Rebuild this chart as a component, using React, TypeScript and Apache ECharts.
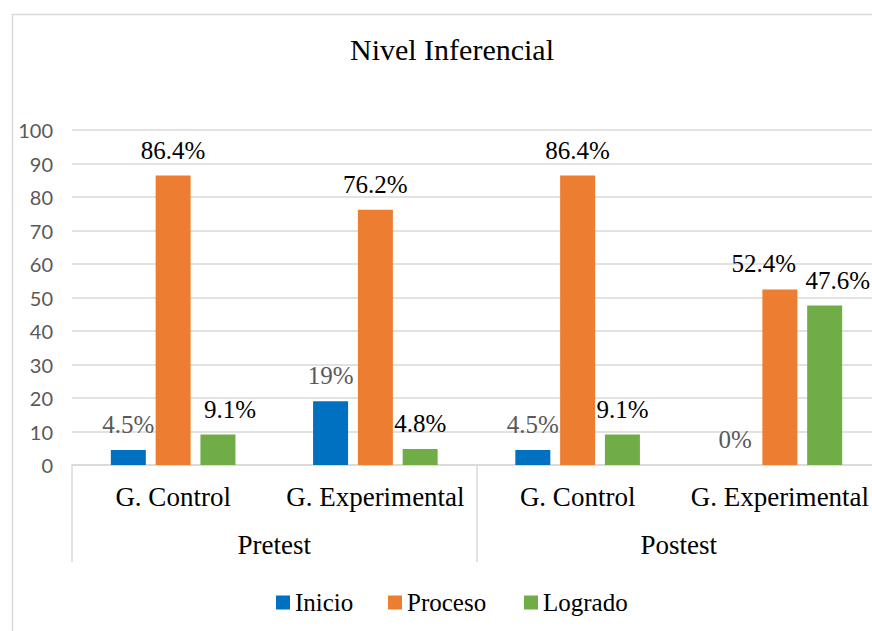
import React, { useEffect, useRef } from "react";
import * as echarts from "echarts";

const groups = ["Pretest", "Postest"];
const categories = ["G. Control", "G. Experimental", "G. Control", "G. Experimental"];
const seriesNames = ["Inicio", "Proceso", "Logrado"];
const inicio = [4.5, 19, 4.5, 0];
const proceso = [86.4, 76.2, 86.4, 52.4];
const logrado = [9.1, 4.8, 9.1, 47.6];
const labelShiftProceso = [0, 0, 0, -16];
const labelShiftLogrado = [12, 0, 0, 13];

const SERIF = "Liberation Serif";
const legendLefts = [271, 383, 519];

export default function App() {
  const ref = useRef<HTMLDivElement>(null);
  useEffect(() => {
    document.body.style.margin = "0";
    const chart = echarts.init(ref.current!, null, { renderer: "svg" });
    const mk = (name: string, vals: number[], color: string, labelColor: string, shifts?: number[]) => ({
      name,
      type: "bar",
      barWidth: 35,
      barGap: "28%",
      itemStyle: { color },
      data: vals.map((v, i) => ({
        value: v,
        label: shifts && shifts[i] ? { offset: [shifts[i], 0] } : undefined,
      })),
      label: {
        show: true,
        position: "top",
        distance: 13,
        formatter: (p: any) => `${p.value}%`,
        fontFamily: SERIF,
        fontSize: 25,
        color: labelColor,
      },
    });
    chart.setOption({
      animation: false,
      backgroundColor: "#fff",
      textStyle: { fontFamily: SERIF },
      title: {
        text: "Nivel Inferencial",
        left: 447,
        textAlign: "center",
        top: 29,
        textStyle: { fontFamily: SERIF, fontSize: 30, fontWeight: "normal", color: "#000" },
      },
      graphic: [
        {
          type: "rect",
          shape: { x: 12.5, y: 14.5, width: 869, height: 700 },
          style: { fill: "none", stroke: "#d9d9d9", lineWidth: 1.5 },
          silent: true,
        },
      ],
      legend: seriesNames.map((n, i) => ({
        left: legendLefts[i],
        top: 585,
        itemWidth: 14,
        itemHeight: 14,
        icon: "rect",
        textStyle: { fontFamily: SERIF, fontSize: 25, color: "#000" },
        data: [n],
      })),
      grid: { left: 72, top: 130, width: 809, height: 335, containLabel: false },
      xAxis: [
        {
          type: "category",
          data: categories,
          axisLine: { show: true, lineStyle: { color: "#d9d9d9", width: 1.5 } },
          axisTick: { show: false },
          axisLabel: { fontFamily: SERIF, fontSize: 27, color: "#000", margin: 18, interval: 0 },
        },
        {
          type: "category",
          position: "bottom",
          data: groups,
          axisLine: { show: false },
          axisTick: { show: true, length: 97, lineStyle: { color: "#d9d9d9", width: 1.5 } },
          axisLabel: { fontFamily: SERIF, fontSize: 27, color: "#000", margin: 66, interval: 0 },
        },
      ],
      yAxis: {
        type: "value",
        min: 0,
        max: 100,
        interval: 10,
        axisLine: { show: false },
        axisTick: { show: false },
        splitLine: { lineStyle: { color: "#d9d9d9", width: 1.5 } },
        axisLabel: { fontFamily: "Lato", fontSize: 20, color: "#595959", margin: 19 },
      },
      series: [
        mk("Inicio", inicio, "#0070C0", "#595959"),
        mk("Proceso", proceso, "#ED7D31", "#000", labelShiftProceso),
        mk("Logrado", logrado, "#70AD47", "#000", labelShiftLogrado),
      ],
    });
    return () => chart.dispose();
  }, []);
  return (
    <div style={{ width: 872, height: 631, overflow: "hidden" }}>
      <div ref={ref} style={{ width: 900, height: 631 }} />
    </div>
  );
}
